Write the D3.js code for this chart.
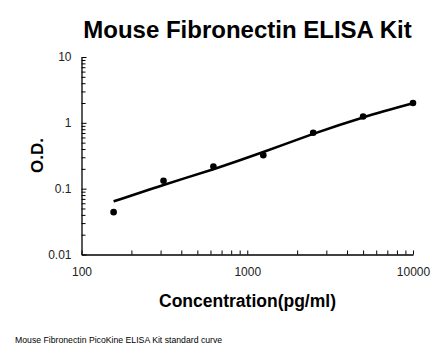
<!DOCTYPE html>
<html><head><meta charset="utf-8">
<script src="https://cdn.jsdelivr.net/npm/d3@7"></script>
<style>html,body{margin:0;padding:0;background:#fff;}</style>
</head><body>
<svg id="c" width="446" height="356"></svg>
<script>
const concentrations = [156.25, 312.5, 625, 1250, 2500, 5000, 10000];
const odValues = [0.044, 0.132, 0.217, 0.323, 0.708, 1.25, 2.0];
const curveConc = [156.25, 312.5, 625, 1250, 2500, 5000, 10000];
const curveOD = [0.064, 0.114, 0.198, 0.36, 0.68, 1.21, 1.98];
const xTicks = [100, 1000, 10000];
const yTicks = [0.01, 0.1, 1, 10];
const yTickLabels = ["0.01", "0.1", "1", "10"];
const title = "Mouse Fibronectin ELISA Kit";
const xTitle = "Concentration(pg/ml)";
const yTitle = "O.D.";
const footer = "Mouse Fibronectin PicoKine ELISA Kit standard curve";

const svg = d3.select("#c");
const x = d3.scaleLog().domain([100, 10000]).range([81.5, 413]);
const y = d3.scaleLog().domain([0.01, 10]).range([254.5, 57]);
const font = "'Liberation Sans', Arial, sans-serif";

const xMinor = [];
for (let d = 100; d < 10000; d *= 10) for (let k = 2; k <= 9; k++) xMinor.push(d * k);
const yMinor = [];
for (let d = 0.01; d < 9; d *= 10) for (let k = 2; k <= 9; k++) yMinor.push(+(d * k).toPrecision(3));

const g = svg.append("g");
const xAxis = d3.axisBottom(x).tickValues(xTicks).tickFormat(d3.format("d")).tickSizeInner(-4).tickSizeOuter(0).tickPadding(13);
const gx = g.append("g").attr("transform", "translate(0,254.5)").call(xAxis);
gx.select(".domain").attr("stroke", "#000").attr("stroke-width", 1.3);
gx.selectAll(".tick line").attr("stroke", "#000");
gx.selectAll("text").attr("font-family", font).attr("font-size", 12).attr("fill", "#222");
g.append("g").attr("transform", "translate(0,254.5)")
  .call(d3.axisBottom(x).tickValues(xMinor).tickFormat("").tickSizeInner(-4).tickSizeOuter(0))
  .call(s => s.select(".domain").remove())
  .selectAll("line").attr("stroke", "#000");

const yAxis = d3.axisLeft(y).tickValues(yTicks).tickFormat((d, i) => yTickLabels[i]).tickSizeInner(-5).tickSizeOuter(0).tickPadding(10);
const gy = g.append("g").attr("transform", "translate(81.5,0)").call(yAxis);
gy.select(".domain").attr("stroke", "#000").attr("stroke-width", 1.3);
gy.selectAll(".tick line").attr("stroke", "#000");
gy.selectAll("text").attr("font-family", font).attr("font-size", 12).attr("fill", "#222");
g.append("g").attr("transform", "translate(81.5,0)")
  .call(d3.axisLeft(y).tickValues(yMinor).tickFormat("").tickSizeInner(-4).tickSizeOuter(0))
  .call(s => s.select(".domain").remove())
  .selectAll("line").attr("stroke", "#000");

const line = d3.line().x(d => x(d[0])).y(d => y(d[1])).curve(d3.curveNatural);
svg.append("path").datum(curveConc.map((c, i) => [c, curveOD[i]]))
  .attr("d", line).attr("fill", "none").attr("stroke", "#000").attr("stroke-width", 2.6);

svg.selectAll("circle.pt").data(concentrations).enter().append("circle")
  .attr("class", "pt").attr("cx", d => x(d)).attr("cy", (d, i) => y(odValues[i])).attr("r", 3.3).attr("fill", "#000");

svg.append("text").attr("x", 247.5).attr("y", 38).attr("text-anchor", "middle")
  .attr("font-family", font).attr("font-weight", "bold").attr("font-size", 24).text(title);
svg.append("text").attr("x", 247.5).attr("y", 307).attr("text-anchor", "middle")
  .attr("font-family", font).attr("font-weight", "bold").attr("font-size", 17.5).text(xTitle);
svg.append("text").attr("transform", "translate(43,155.5) rotate(-90)").attr("text-anchor", "middle")
  .attr("font-family", font).attr("font-weight", "bold").attr("font-size", 17).text(yTitle);
svg.append("text").attr("x", 15).attr("y", 343).attr("font-family", font)
  .attr("font-size", 8.7).attr("fill", "#000").text(footer);
</script>
</body></html>
